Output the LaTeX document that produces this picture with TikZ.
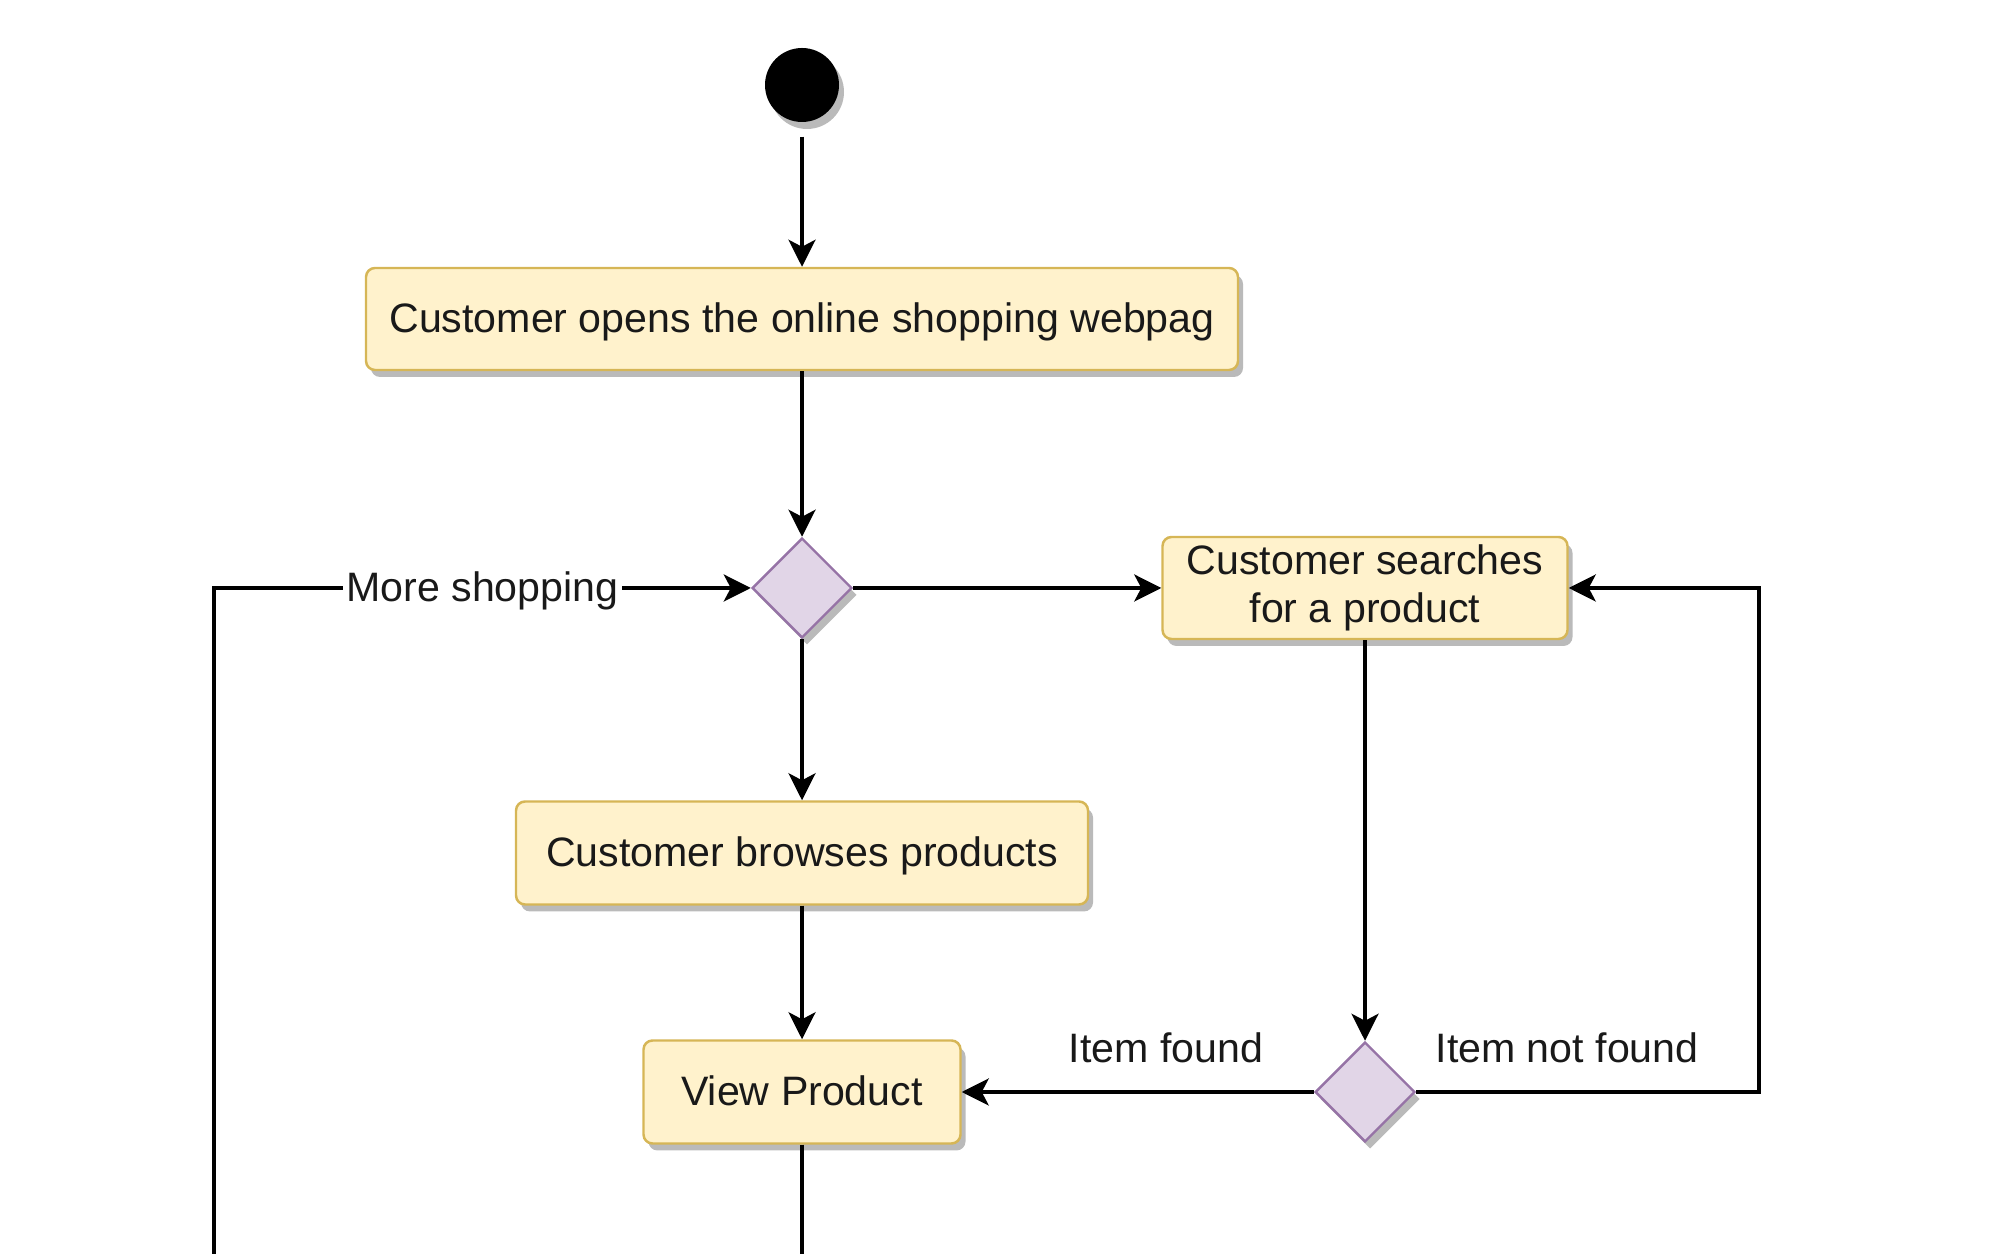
\documentclass[tikz,border=0pt]{standalone}
\usepackage{fontspec}
\setmainfont{Liberation Sans}
\usetikzlibrary{arrows.meta,shapes.geometric,shadows}

\definecolor{actfill}{HTML}{FFF2CC}
\definecolor{actdraw}{HTML}{D6B656}
\definecolor{decfill}{HTML}{E1D5E7}
\definecolor{decdraw}{HTML}{9673A6}

\begin{document}
\begin{tikzpicture}[line width=1pt,
  >={Stealth[length=0.27cm,width=0.27cm,inset=0.07cm]},
  every node/.style={font=\fontsize{11.7}{13.6}\selectfont,text=black!90},
  boxshadow/.style={drop shadow={shadow xshift=0.05cm,shadow yshift=-0.07cm,fill=black!27,opacity=1}},
  act/.style={boxshadow,rectangle,rounded corners=0.09cm,draw=actdraw,fill=actfill,line width=0.7pt,inner sep=0pt,align=center},
  oneline/.style={text height=0.95em,text depth=0.2em},
  dec/.style={boxshadow,diamond,aspect=1,draw=decdraw,fill=decfill,line width=0.7pt,inner sep=0pt,minimum width=1cm,minimum height=1cm},
  lbl/.style={fill=white,inner sep=1pt}]

  \useasboundingbox (0,0) rectangle (20,-12.54);

  \def\xm{8.02}
  \def\xs{13.65}
  \def\ya{-5.88}
  \def\yb{-10.92}

  \node[circle,fill=black,minimum size=0.74cm,inner sep=0pt,boxshadow] (st) at (\xm,-0.85) {};
  \node[act,oneline,minimum width=8.72cm,minimum height=1.02cm] (op) at (\xm,-3.19) {Customer opens the online shopping webpag};

  \node[dec] (d1) at (\xm,\ya) {};
  \node[act,minimum width=4.05cm,minimum height=1.02cm] (se) at (\xs,\ya) {Customer searches\\for a product};

  \node[act,oneline,minimum width=5.72cm,minimum height=1.03cm] (br) at (\xm,-8.53) {Customer browses products};

  \node[act,oneline,minimum width=3.17cm,minimum height=1.03cm] (vp) at (\xm,\yb) {View Product};
  \node[dec] (d2) at (\xs,\yb) {};

  % loop corners and free ends
  \coordinate (lb) at (2.14,-12.54);
  \coordinate (rb) at (\xm,-12.54);
  \coordinate (rc) at (17.59,\yb);

  \draw[->,shorten <=0.13cm] (st) -- (op);
  \draw[->] (op) -- (d1);
  \draw[->] (d1) -- (se);
  \draw[->] (d1) -- (br);
  \draw[->] (br) -- (vp);
  \draw[->] (se) -- (d2);

  \draw[->] (d2) -- (vp) node[pos=0.42,yshift=0.44cm] {Item found};
  \draw[->] (d2.east) -- (rc) node[pos=0.44,yshift=0.44cm] {Item not found} |- (se.east);

  \draw[->] (lb) |- (d1.west) node[lbl,pos=0.75,oneline] {More shopping};
  \draw (vp) -- (rb);

\end{tikzpicture}
\end{document}
